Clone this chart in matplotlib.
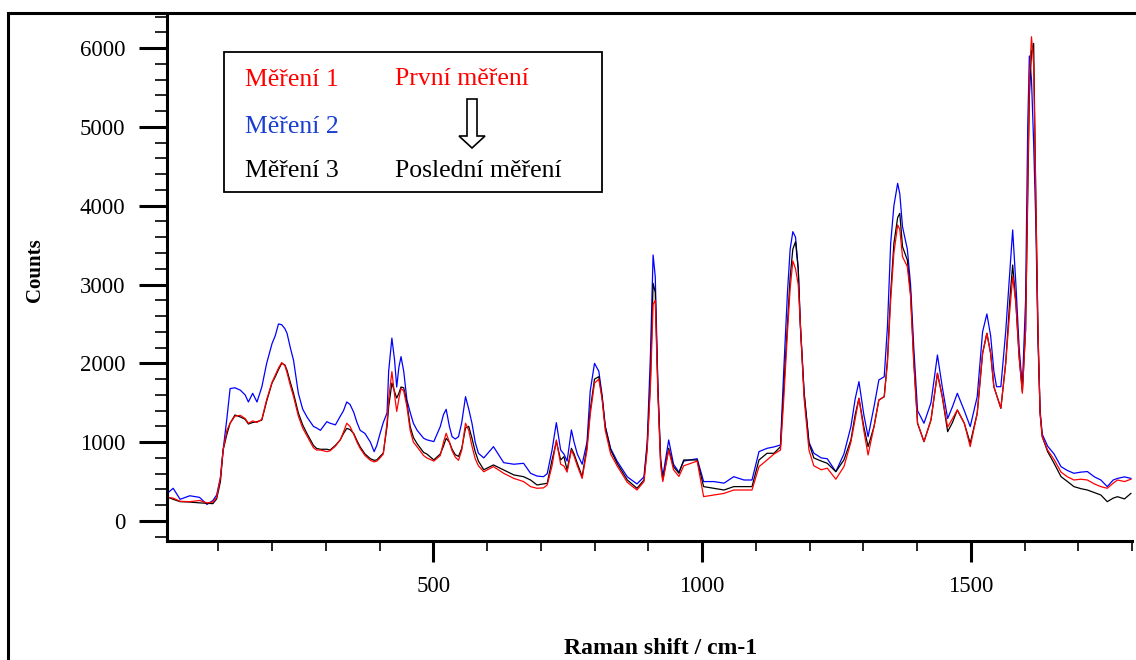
import matplotlib
matplotlib.use("Agg")
import matplotlib.pyplot as plt
from matplotlib.patches import Rectangle, FancyArrow
from matplotlib.ticker import MultipleLocator

# Raman shift (cm-1) and counts for the three measurements
shift = [5, 16, 29, 47, 65, 79, 90, 97, 104, 109, 116, 122, 131, 141, 150, 156, 164, 172, 181, 190,
         200, 206, 212, 218, 224, 228, 234, 240, 249, 257, 265, 277, 283, 290, 302, 308, 318, 327, 333, 339,
         345, 352, 358, 364, 373, 383, 390, 395, 401, 407, 414, 417, 423, 428, 432, 436, 440, 445, 451, 457,
         463, 470, 482, 488, 501, 513, 519, 524, 530, 535, 541, 547, 553, 560, 566, 572, 578, 584, 594, 612,
         631, 650, 668, 681, 693, 705, 712, 721, 729, 737, 743, 749, 757, 762, 768, 777, 786, 792, 800, 808,
         814, 820, 830, 842, 861, 879, 892, 898, 904, 909, 913, 918, 923, 927, 938, 947, 957, 966, 991, 1003,
         1022, 1041, 1059, 1078, 1093, 1106, 1121, 1134, 1146, 1152, 1159, 1164, 1169, 1174, 1179, 1183, 1190, 1199, 1208, 1222,
         1233, 1249, 1264, 1277, 1285, 1292, 1301, 1309, 1320, 1329, 1339, 1345, 1351, 1357, 1364, 1368, 1373, 1382, 1388, 1394,
         1401, 1413, 1426, 1438, 1447, 1457, 1466, 1475, 1488, 1499, 1512, 1522, 1530, 1537, 1543, 1548, 1556, 1565, 1573, 1578,
         1584, 1590, 1596, 1602, 1606, 1609, 1613, 1617, 1621, 1625, 1629, 1633, 1643, 1655, 1668, 1680, 1692, 1705, 1717, 1730,
         1742, 1754, 1765, 1773, 1786, 1798]

mereni_1 = [300, 290, 250, 245, 260, 230, 240, 300, 550, 900, 1150, 1240, 1330, 1340, 1300, 1240, 1270, 1250, 1290, 1540,
            1760, 1850, 1940, 2010, 1970, 1880, 1720, 1580, 1330, 1180, 1080, 930, 900, 900, 880, 890, 950, 1030, 1130, 1240,
            1200, 1100, 1000, 920, 830, 770, 750, 760, 800, 850, 1250, 1550, 1895, 1600, 1390, 1550, 1680, 1650, 1450, 1150,
            1000, 940, 830, 800, 760, 830, 1000, 1113, 1000, 890, 810, 770, 900, 1240, 1150, 950, 790, 700, 625, 690,
            605, 540, 500, 436, 415, 420, 457, 700, 1028, 720, 698, 620, 900, 820, 700, 540, 900, 1350, 1750, 1800,
            1550, 1150, 850, 700, 490, 393, 500, 900, 1700, 2750, 2800, 1600, 700, 500, 900, 650, 565, 700, 760, 309,
            330, 350, 393, 393, 393, 689, 774, 850, 900, 1535, 2400, 2950, 3300, 3200, 3000, 2500, 1550, 900, 700, 650,
            670, 530, 689, 1000, 1300, 1556, 1150, 837, 1197, 1535, 1577, 2000, 2800, 3400, 3756, 3700, 3354, 3227, 2850, 2000,
            1240, 1007, 1282, 1874, 1577, 1190, 1300, 1408, 1240, 943, 1366, 2127, 2381, 2127, 1704, 1600, 1430, 2000, 2700, 3100,
            2762, 2085, 1620, 2423, 4200, 5600, 6144, 5800, 4115, 2423, 1366, 1070, 900, 780, 620, 560, 520, 530, 520, 470,
            436, 415, 480, 520, 500, 530]

mereni_2 = [350, 415, 275, 320, 300, 210, 260, 330, 550, 900, 1300, 1680, 1690, 1660, 1600, 1510, 1620, 1510, 1700, 2000,
            2250, 2350, 2500, 2490, 2440, 2380, 2200, 2040, 1620, 1420, 1320, 1200, 1180, 1150, 1260, 1240, 1220, 1330, 1400, 1510,
            1480, 1380, 1250, 1150, 1110, 1000, 880, 960, 1110, 1250, 1370, 1900, 2320, 2040, 1700, 1950, 2085, 1900, 1535, 1380,
            1240, 1150, 1050, 1030, 1007, 1197, 1350, 1417, 1200, 1070, 1040, 1070, 1250, 1577, 1420, 1240, 1000, 859, 800, 943,
            740, 720, 732, 605, 570, 562, 600, 900, 1248, 900, 850, 760, 1155, 1000, 850, 720, 1000, 1650, 2000, 1900,
            1600, 1200, 920, 760, 560, 470, 560, 1000, 2100, 3375, 3100, 1700, 780, 560, 1028, 720, 620, 760, 790, 500,
            500, 480, 562, 520, 520, 880, 922, 940, 964, 1900, 2900, 3450, 3671, 3600, 3200, 2500, 1620, 1000, 860, 800,
            790, 626, 850, 1197, 1550, 1768, 1350, 1070, 1450, 1789, 1830, 2465, 3523, 4000, 4284, 4150, 3734, 3450, 3000, 2200,
            1400, 1240, 1500, 2106, 1700, 1300, 1450, 1620, 1400, 1197, 1577, 2400, 2627, 2350, 1900, 1704, 1704, 2400, 3200, 3692,
            3000, 2200, 1700, 2800, 5000, 5900, 5600, 4800, 3800, 2300, 1400, 1100, 950, 850, 689, 640, 605, 620, 627, 560,
            520, 436, 520, 540, 560, 540]

mereni_3 = [305, 275, 245, 240, 230, 225, 220, 280, 500, 900, 1100, 1240, 1345, 1320, 1290, 1230, 1250, 1260, 1280, 1520,
            1750, 1830, 1920, 2000, 1980, 1910, 1760, 1620, 1370, 1220, 1110, 960, 920, 910, 910, 900, 960, 1030, 1110, 1175,
            1160, 1110, 1020, 940, 850, 790, 770, 775, 820, 860, 1200, 1450, 1750, 1640, 1560, 1620, 1700, 1690, 1500, 1200,
            1060, 980, 870, 850, 775, 850, 950, 1050, 1000, 910, 840, 820, 920, 1180, 1200, 1050, 880, 760, 650, 711,
            647, 584, 562, 520, 457, 470, 478, 774, 1007, 774, 816, 647, 922, 850, 732, 562, 943, 1408, 1800, 1831,
            1577, 1197, 900, 732, 520, 415, 520, 943, 1789, 3016, 2900, 1662, 774, 520, 922, 689, 605, 774, 774, 436,
            415, 393, 436, 436, 436, 774, 859, 859, 943, 1662, 2508, 3100, 3450, 3544, 3200, 2465, 1620, 986, 800, 760,
            732, 626, 774, 1028, 1350, 1556, 1197, 943, 1197, 1535, 1577, 2043, 2889, 3523, 3850, 3903, 3481, 3311, 2889, 2043,
            1240, 1007, 1282, 1874, 1577, 1133, 1250, 1408, 1240, 986, 1366, 2127, 2381, 2127, 1704, 1600, 1430, 2000, 2846, 3248,
            2762, 2085, 1641, 2423, 4115, 5383, 5950, 6060, 4115, 2423, 1366, 1070, 880, 732, 562, 500, 436, 410, 393, 360,
            330, 245, 290, 308, 280, 350]

plt.rcParams['font.family'] = ['Liberation Serif', 'DejaVu Serif']

fig = plt.figure(figsize=(11.36, 6.6), dpi=100)
ax = fig.add_axes([167 / 1136, 1 - 541 / 660, (1132 - 167) / 1136, (541 - 15) / 660])

# Plot the three measurements
ax.plot(shift, mereni_2, color='#0000ff', lw=0.9)
ax.plot(shift, mereni_3, color='black', lw=0.9)
ax.plot(shift, mereni_1, color='#ff0000', lw=0.9)

ax.set_xlim(4.6, 1800)
ax.set_ylim(-254, 6420)

# Axis styling
for side in ['top', 'right']:
    ax.spines[side].set_visible(False)
for side in ['left', 'bottom']:
    ax.spines[side].set_linewidth(2.2)

ax.xaxis.set_major_locator(MultipleLocator(500))
ax.xaxis.set_minor_locator(MultipleLocator(100))
ax.yaxis.set_major_locator(MultipleLocator(1000))
ax.yaxis.set_minor_locator(MultipleLocator(200))
ax.tick_params(axis='y', which='major', direction='out', length=20, width=2.2, labelsize=16.5, pad=10)
ax.tick_params(axis='y', which='minor', direction='out', length=8.5, width=1.2)
ax.tick_params(axis='x', which='major', direction='out', length=15, width=2.2, labelsize=16.5, pad=10)
ax.tick_params(axis='x', which='minor', direction='out', length=7, width=1.2)

# Axis labels
fig.text(35 / 1136, 1 - 270 / 660, 'Counts', rotation=90, ha='center', va='center',
         fontsize=15, fontweight='bold')
fig.text(661 / 1136, 1 / 660, 'Raman shift / cm-1', ha='center', va='bottom',
         fontsize=17, fontweight='bold')

# Outer frame (cut off at right and bottom)
fig.patches.append(Rectangle((8 / 1136, -0.1), 1.2, 0.1 + (660 - 13) / 660, fill=False,
                             lw=2.2, edgecolor='black', transform=fig.transFigure))

# Legend box with texts
fig.patches.append(Rectangle((224 / 1136, 1 - 192 / 660), (602 - 224) / 1136, (192 - 52) / 660,
                             fill=False, lw=1.3, edgecolor='black', transform=fig.transFigure))
fig.text(245 / 1136, 1 - 86 / 660, 'Měření 1', color='#ff0000', fontsize=18.5, va='baseline')
fig.text(245 / 1136, 1 - 133 / 660, 'Měření 2', color='#1a3fd0', fontsize=18.5, va='baseline')
fig.text(245 / 1136, 1 - 177 / 660, 'Měření 3', color='black', fontsize=18.5, va='baseline')
fig.text(395 / 1136, 1 - 85 / 660, 'První měření', color='#ff0000', fontsize=18.5, va='baseline')
fig.text(395 / 1136, 1 - 177 / 660, 'Poslední měření', color='black', fontsize=18.5, va='baseline')

# Hollow arrow pointing from first to last measurement
fig.patches.append(FancyArrow(472 / 1136, 1 - 99 / 660, 0, -(148 - 99) / 660,
                              width=10 / 1136, head_width=26 / 1136, head_length=12 / 660,
                              length_includes_head=True, facecolor='white', edgecolor='black',
                              lw=1.2, transform=fig.transFigure))

fig.savefig('out.png', dpi=100)
